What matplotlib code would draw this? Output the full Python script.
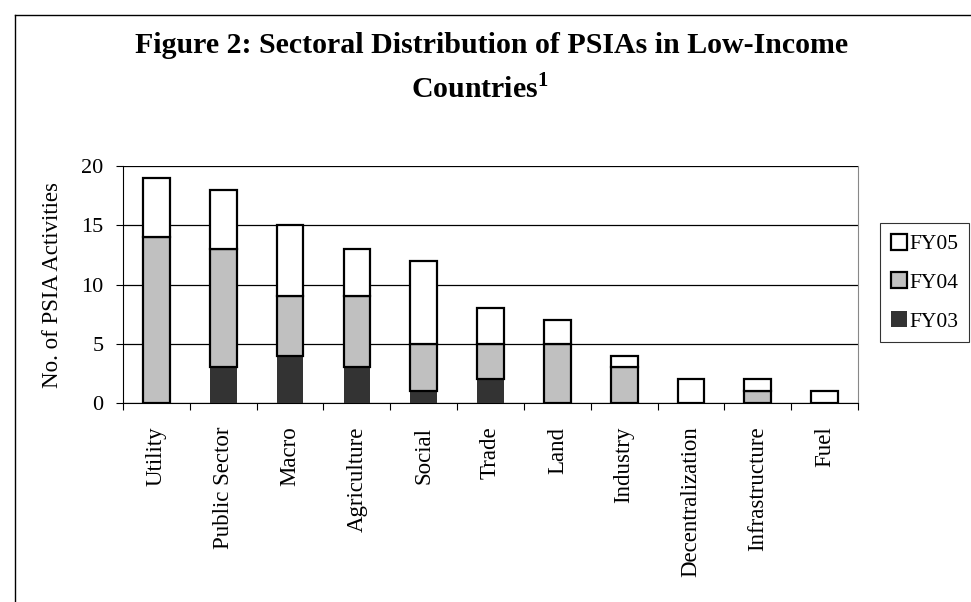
import numpy as np
import matplotlib
matplotlib.use('Agg')
import matplotlib.pyplot as plt
from matplotlib.lines import Line2D

sectors = ['Utility', 'Public Sector', 'Macro', 'Agriculture', 'Social', 'Trade',
           'Land', 'Industry', 'Decentralization', 'Infrastructure', 'Fuel']
fy03 = [0, 3, 4, 3, 1, 2, 0, 0, 0, 0, 0]
fy04 = [14, 10, 5, 6, 4, 3, 5, 3, 0, 1, 0]
fy05 = [5, 5, 6, 4, 7, 3, 2, 1, 2, 1, 1]

plt.rcParams['font.family'] = 'Liberation Serif'
plt.rcParams['mathtext.fontset'] = 'custom'
plt.rcParams['mathtext.rm'] = 'Liberation Serif'
plt.rcParams['mathtext.bf'] = 'Liberation Serif:bold'

W, H = 971, 602
fig = plt.figure(figsize=(W/100, H/100), dpi=100)
ax = fig.add_axes([123/W, 1-403/H, (858-123)/W, (403-166)/H])

x = np.arange(len(sectors))
b03 = np.array(fy03)
b04 = b03 + np.array(fy04)
w = 0.4
ax.bar(x, fy03, w, color='#333333', edgecolor='#333333', linewidth=0, label='FY03', zorder=3)
ax.bar(x, fy04, w, bottom=b03, color='#c0c0c0', edgecolor='black', linewidth=1.6, label='FY04', zorder=3)
ax.bar(x, fy05, w, bottom=b04, color='white', edgecolor='black', linewidth=1.6, label='FY05', zorder=3)

ax.set_xlim(-0.5, len(sectors)-0.5)
ax.set_ylim(0, 20)
ax.set_yticks([0, 5, 10, 15, 20])
ax.yaxis.grid(True, color='black', linewidth=0.9, zorder=0)
ax.set_xticks(np.arange(len(sectors)+1)-0.5)
ax.set_xticklabels([])
ax.set_xticks(x, minor=True)
ax.set_xticklabels(sectors, minor=True, rotation=90, fontsize=16.5)
ax.tick_params(axis='x', which='minor', length=0, pad=17)
ax.tick_params(axis='x', which='major', length=5, direction='out')
ax.tick_params(axis='y', labelsize=16, length=5, direction='out', pad=9)
ax.spines['top'].set_visible(False)
ax.spines['right'].set_color('#888888')
ax.set_ylabel('No. of PSIA Activities', fontsize=16.5)
ax.yaxis.set_label_coords(-0.082, 0.5)

handles, labels = ax.get_legend_handles_labels()
leg = fig.legend(handles[::-1], labels[::-1], loc='upper left',
                 bbox_to_anchor=(880/W, 1-223/H), fontsize=15.5, frameon=True,
                 fancybox=False, edgecolor='black', handlelength=0.75, handleheight=0.75,
                 handletextpad=0.12, labelspacing=0.85, borderpad=0.5, borderaxespad=0)
leg.get_frame().set_linewidth(0.8)

fig.text(492/W, 1-53/H, 'Figure 2: Sectoral Distribution of PSIAs in Low-Income',
         ha='center', va='baseline', fontsize=21.5, fontweight='bold')
fig.text(480/W, 1-98/H, r'Countries$^{\mathbf{1}}$',
         ha='center', va='baseline', fontsize=21.5, fontweight='bold')

fig.add_artist(Line2D([15/W, 15/W], [0, 1-15/H], color='black', linewidth=1))
fig.add_artist(Line2D([15/W, 1], [1-15/H, 1-15/H], color='black', linewidth=1))

fig.savefig('out.png', dpi=100)
